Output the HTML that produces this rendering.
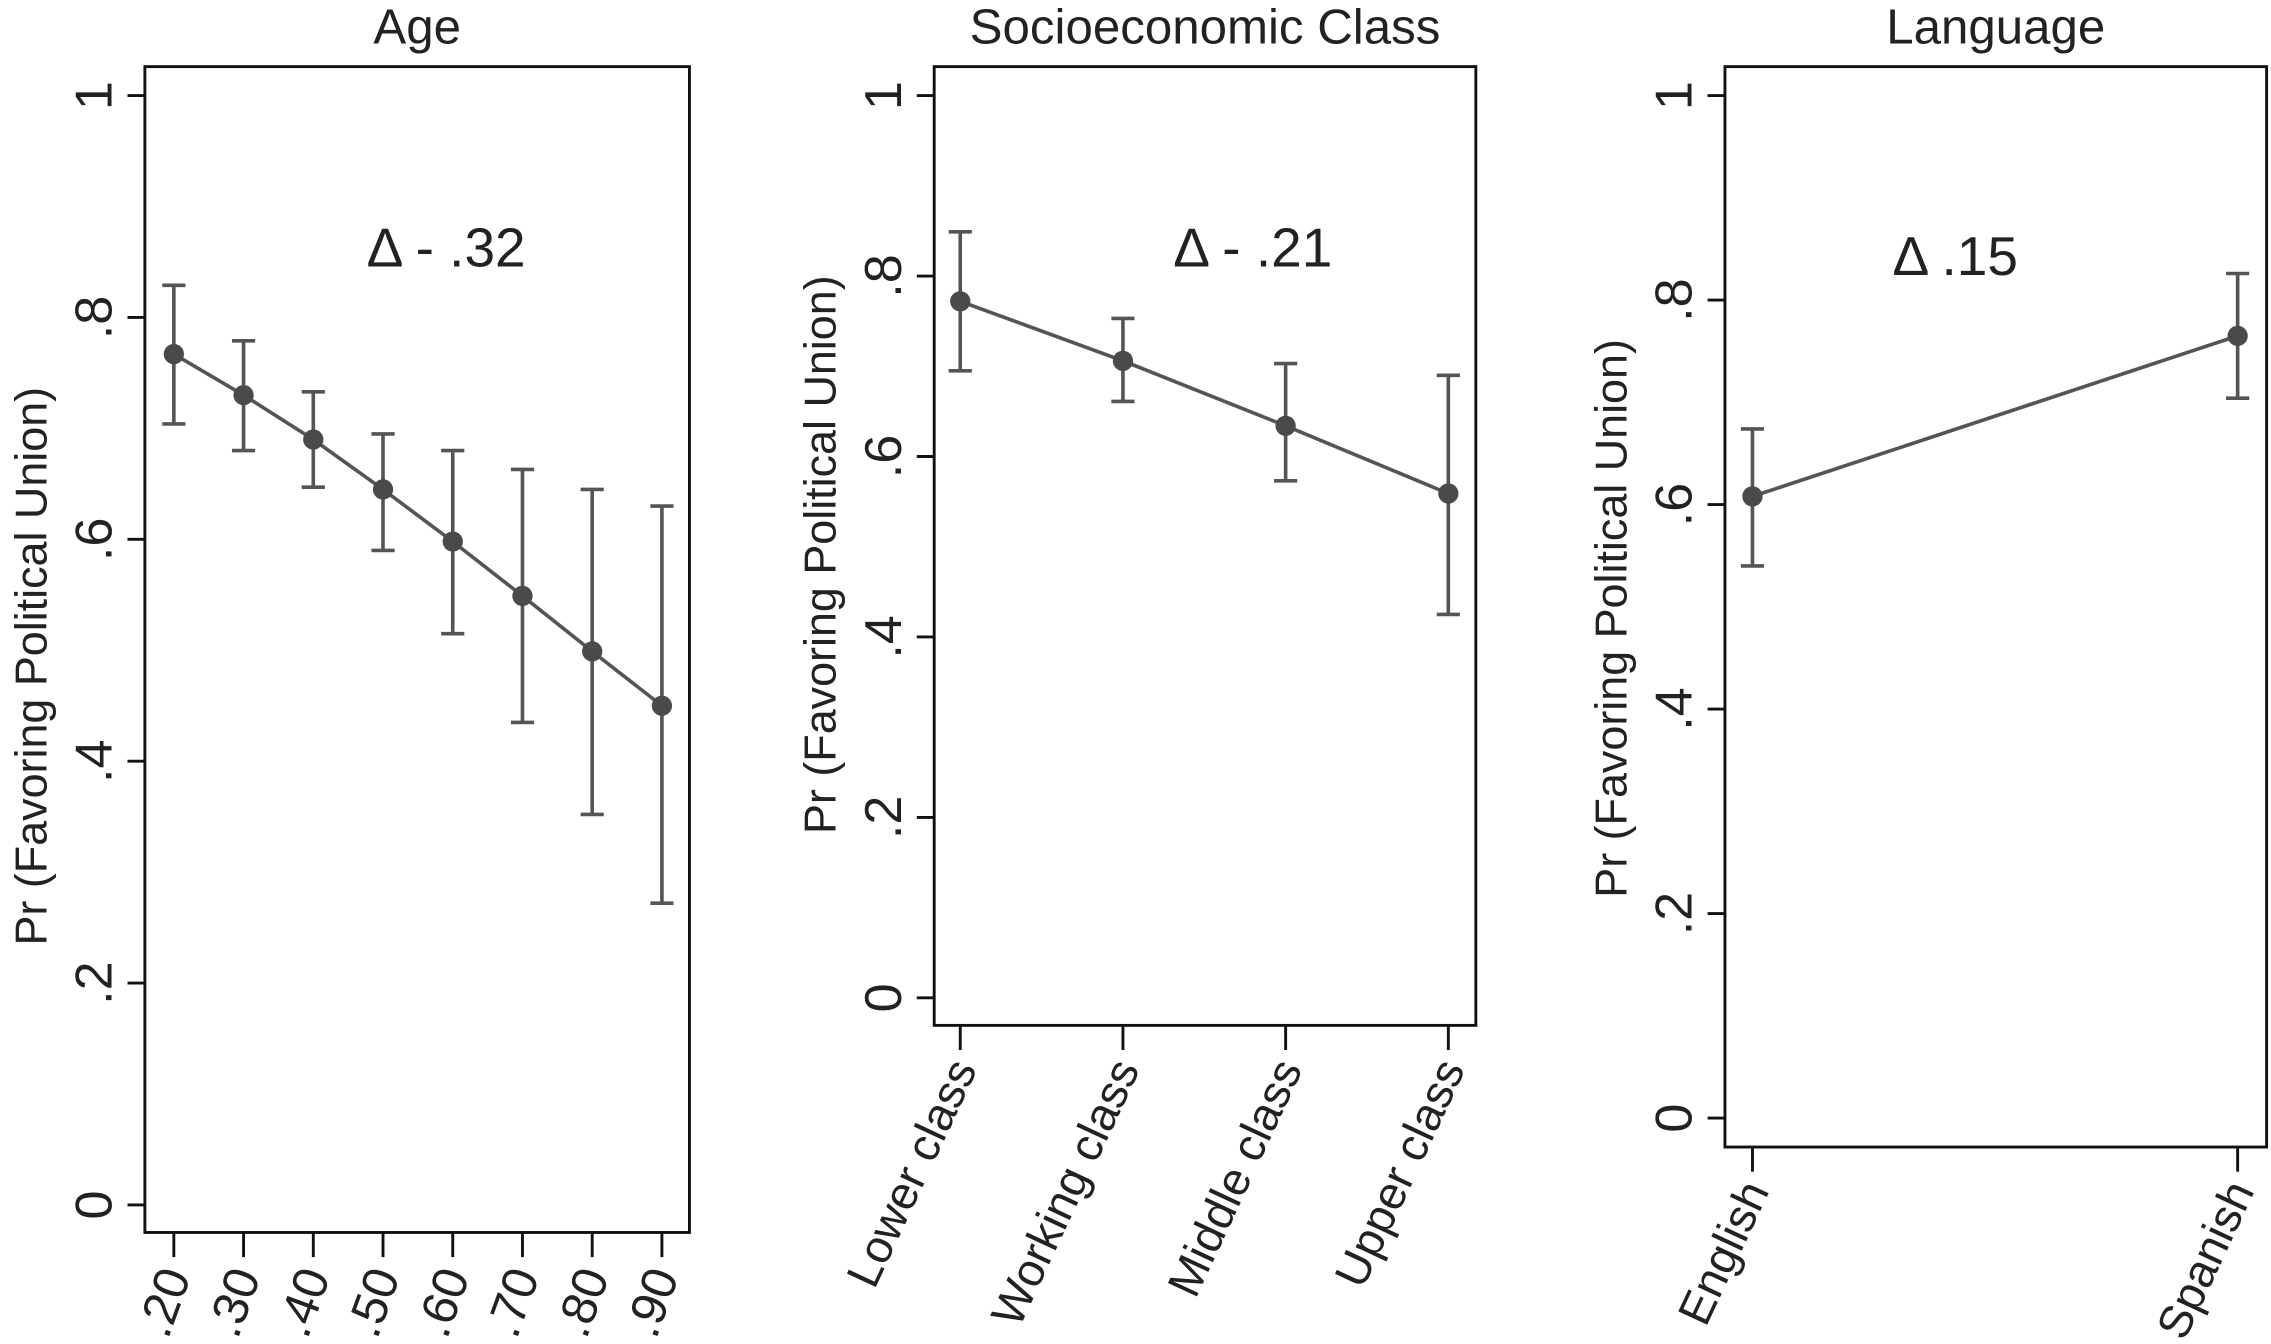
<!DOCTYPE html>
<html><head><meta charset="utf-8"><style>
html,body{margin:0;padding:0;background:#fff}
svg{display:block}
text{font-family:"Liberation Sans",sans-serif;fill:#222}
</style></head><body>
<svg id="chart" width="2271" height="1344" viewBox="0 0 1568 928" xmlns="http://www.w3.org/2000/svg"></svg>
<script>
const ageCats = [".20",".30",".40",".50",".60",".70",".80",".90"];
const ageMean = [0.767,0.730,0.690,0.645,0.598,0.549,0.499,0.450];
const ageHi = [0.829,0.779,0.733,0.695,0.680,0.663,0.645,0.630];
const ageLo = [0.704,0.680,0.647,0.590,0.515,0.435,0.352,0.272];
const classCats = ["Lower class","Working class","Middle class","Upper class"];
const classMean = [0.772,0.706,0.634,0.559];
const classHi = [0.849,0.753,0.703,0.690];
const classLo = [0.695,0.661,0.573,0.425];
const langCats = ["English","Spanish"];
const langMean = [0.608,0.765];
const langHi = [0.674,0.826];
const langLo = [0.540,0.704];
const yTicks = [0,0.2,0.4,0.6,0.8,1];
const yTickLabels = ["0",".2",".4",".6",".8","1"];

const NS="http://www.w3.org/2000/svg";
const svg=document.getElementById('chart');
function mk(tag,attrs,parent,name,txt){
  const e=document.createElementNS(NS,tag);
  for(const k in attrs)e.setAttribute(k,attrs[k]);
  
  
  if(txt!==undefined)e.textContent=txt;
  (parent||svg).appendChild(e);return e;
}
function panel(p){
  const g=mk('g',{},svg,p.id+'-panel');
  const ys=v=>p.y0-(p.y0-p.y1)*v;
  const n=p.cats.length;
  const xs=i=>p.xa+(p.xb-p.xa)*(n===1?0:i/(n-1));
  mk('rect',{x:p.L,y:46,width:p.R-p.L,height:p.B-46,fill:'none',stroke:'#111','stroke-width':2},g,p.id+'-frame');
  mk('text',{x:(p.L+p.R)/2,y:30,'text-anchor':'middle','font-size':34},g,p.id+'-title',p.title);
  yTicks.forEach((t,i)=>{
    const y=ys(t);
    mk('line',{x1:p.L-12,x2:p.L,y1:y,y2:y,stroke:'#111','stroke-width':2},g,'y-tick');
    mk('text',{x:0,y:0,transform:`translate(${p.L-23},${y}) rotate(-90)`,'text-anchor':'middle','font-size':36},g,'y-tick-label',yTickLabels[i]);
  });
  mk('text',{x:0,y:0,transform:`translate(${p.L-68},${p.ty}) rotate(-90)`,'text-anchor':'middle','font-size':31},g,p.id+'-y-axis-title','Pr (Favoring Political Union)');
  p.cats.forEach((c,i)=>{
    const x=xs(i);
    mk('line',{x1:x,x2:x,y1:p.B,y2:p.B+17,stroke:'#111','stroke-width':2},g,'x-tick');
    mk('text',{x:0,y:0,transform:`translate(${x+12},${p.B+30}) rotate(${p.rot})`,'text-anchor':'end','font-size':p.fs},g,'x-tick-label',c);
  });
  let d='';
  p.mean.forEach((m,i)=>{d+=(i?'L':'M')+xs(i)+' '+ys(m)});
  mk('path',{d:d,fill:'none',stroke:'#555','stroke-width':2.5},g,p.id+'-line');
  p.mean.forEach((m,i)=>{
    const x=xs(i);
    mk('line',{x1:x,x2:x,y1:ys(p.hi[i]),y2:ys(p.lo[i]),stroke:'#555','stroke-width':2.5},g,'error-bar');
    mk('line',{x1:x-8,x2:x+8,y1:ys(p.hi[i]),y2:ys(p.hi[i]),stroke:'#555','stroke-width':2.5},g,'error-cap-top');
    mk('line',{x1:x-8,x2:x+8,y1:ys(p.lo[i]),y2:ys(p.lo[i]),stroke:'#555','stroke-width':2.5},g,'error-cap-bottom');
    mk('circle',{cx:x,cy:ys(m),r:7,fill:'#4a4a4a'},g,'point');
  });
  mk('text',{x:p.dx,y:p.dy,'text-anchor':'middle','font-size':38},g,p.id+'-delta-label',p.delta);
}
panel({id:'age',title:'Age',L:100,R:476,B:851,y0:832,y1:66,xa:120,xb:457,ty:460,cats:ageCats,mean:ageMean,hi:ageHi,lo:ageLo,rot:-70,fs:34,dx:308,dy:184,delta:'Δ - .32'});
panel({id:'class',title:'Socioeconomic Class',L:645,R:1019,B:708,y0:689,y1:66,xa:663,xb:1000,ty:383,cats:classCats,mean:classMean,hi:classHi,lo:classLo,rot:-65,fs:32,dx:865,dy:184,delta:'Δ - .21'});
panel({id:'language',title:'Language',L:1191,R:1565,B:792,y0:772,y1:66,xa:1210,xb:1545,ty:427,cats:langCats,mean:langMean,hi:langHi,lo:langLo,rot:-65,fs:32,dx:1350,dy:190,delta:'Δ .15'});
</script>
</body></html>
